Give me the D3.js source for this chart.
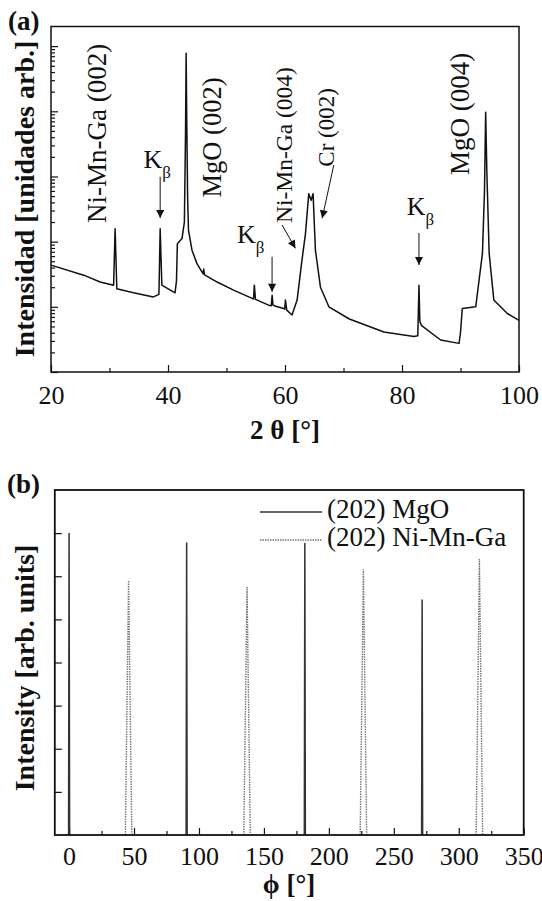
<!DOCTYPE html>
<html>
<head>
<meta charset="utf-8">
<script src="https://cdnjs.cloudflare.com/ajax/libs/d3/7.8.5/d3.min.js"></script>
<style>
  body { margin: 0; background: #fff; }
  text { font-family: 'Liberation Serif', 'Times New Roman', serif; fill: #111; }
</style>
</head>
<body>
<script>
// ---- données (a) : balayage 2θ, intensité (échelle log)
const twoTheta = [20, 25.6, 28.4, 30.7, 30.96, 31.25, 34.1, 37.5, 38.45, 38.66,
  38.95, 41.2, 41.45, 41.6, 42.4, 42.8, 43.0, 43.1, 43.2, 43.35,
  43.5, 44.1, 44.95, 46.0, 46.1, 46.25, 48.4, 51.2, 54.4, 54.62,
  54.76, 54.95, 57.2, 57.65, 57.8, 57.95, 58.4, 59.8, 59.95, 60.07,
  60.3, 61.2, 62.07, 62.9, 63.5, 64.06, 64.47, 64.8, 65.2, 66.06,
  67.5, 71.0, 76.9, 82.04, 82.7, 82.9, 83.05, 83.3, 86.6, 89.75,
  90.0, 90.3, 92.6, 93.75, 94.1, 94.3, 94.5, 94.9, 95.7, 98.0, 100]
const counts = [43.6, 30.6, 24, 21.5, 158, 19, 16.5, 14.2, 15.5, 158,
  21.5, 16.4, 25, 93, 112, 200, 5000, 78000, 8000, 500,
  150, 74, 46, 32, 38, 31, 24, 18, 13.5, 13.2,
  21.5, 13, 10.6, 10.4, 15, 10.6, 10.2, 9.4, 9.2, 12.7,
  8.9, 7.5, 12.7, 52, 133, 545, 430, 545, 74, 20,
  10, 6.5, 4.1, 3.5, 3.6, 21.5, 6, 5.2, 3.1, 2.75,
  4, 9.4, 10, 66, 600, 9700, 1200, 66, 12.7, 7.9, 6.2]
const ticksA = [20, 40, 60, 80, 100]
const minorA = [30, 50, 70, 90]

// ---- données (b) : balayage φ
const phiMgO = [0, 90.5, 181.5, 271.8]
const intMgO = [7.0, 6.78, 6.77, 5.46]
const phiNMG = [45.8, 137, 226.6, 315.9]
const intNMG = [5.9, 5.75, 6.16, 6.4]
const widthMgO = 0.4   // demi-largeur des pics (°)
const widthNMG = 2.5
const ticksB = [0, 50, 100, 150, 200, 250, 300, 350]
const minorB = [25, 75, 125, 175, 225, 275, 325]
const yTicksB = [1, 2, 3, 4, 5, 6, 7]

const svg = d3.select("body").append("svg")
    .attr("width", 542)
    .attr("height", 901)

// flèches
svg.append("defs").append("marker")
    .attr("id", "head")
    .attr("viewBox", "0 0 10 10")
    .attr("refX", 10).attr("refY", 5)
    .attr("markerUnits", "userSpaceOnUse")
    .attr("markerWidth", 10).attr("markerHeight", 8)
    .attr("orient", "auto")
    .append("path").attr("d", "M0,0 L10,5 L0,10 z").attr("fill", "#111")

//================ panneau (a)
const xA = d3.scaleLinear().domain([20, 100]).range([51, 519])
const yA = d3.scaleLog().domain([1, 2e5]).range([372, 26.5])

const gA = svg.append("g")

// ticks x
gA.append("g").attr("transform", "translate(0,372)")
    .call(d3.axisBottom(xA).tickValues(ticksA).tickSize(-7).tickFormat(d3.format("d")))
    .call(g => g.select(".domain").remove())
    .call(g => g.selectAll("text").attr("y", 32).attr("dy", null).style("font-size", "26px"))
gA.append("g").attr("transform", "translate(0,372)")
    .call(d3.axisBottom(xA).tickValues(minorA).tickSize(-4).tickFormat(""))
    .call(g => g.select(".domain").remove())

// ticks y log
const decades = [1, 10, 100, 1000, 1e4, 1e5]
const logMinor = []
decades.forEach(d => { for (let k = 2; k <= 9; k++) if (d * k < 2e5) logMinor.push(d * k) })
gA.append("g").attr("transform", "translate(51,0)")
    .call(d3.axisLeft(yA).tickValues(decades).tickSize(-7).tickFormat(""))
    .call(g => g.select(".domain").remove())
gA.append("g").attr("transform", "translate(51,0)")
    .call(d3.axisLeft(yA).tickValues(logMinor).tickSize(-4).tickFormat(""))
    .call(g => g.select(".domain").remove())
svg.selectAll(".tick line").attr("stroke", "#111").attr("stroke-width", 1.2)

// courbe
const lineA = d3.line().x((d, i) => xA(twoTheta[i])).y(d => yA(d))
gA.append("path")
    .datum(counts)
    .attr("d", lineA)
    .attr("fill", "none")
    .attr("stroke", "#111")
    .attr("stroke-width", 1.5)
    .attr("stroke-linejoin", "round")

gA.append("rect")
    .attr("x", 51).attr("y", 26.5)
    .attr("width", 468).attr("height", 345.5)
    .attr("fill", "none").attr("stroke", "#111").attr("stroke-width", 1.5)

// étiquettes verticales
const peakLabels = [
  { t: "Ni-Mn-Ga (002)", x: 29.42, y: 193, s: 27 },
  { t: "MgO (002)", x: 49.11, y: 476, s: 26.5 },
  { t: "Ni-Mn-Ga (004)", x: 61.27, y: 193, s: 23.5 },
  { t: "Cr (002)", x: 68.46, y: 1413, s: 23 },
  { t: "MgO (004)", x: 91.4, y: 1053, s: 27 }
]
gA.selectAll(".plabel")
    .data(peakLabels)
    .enter()
    .append("text")
    .attr("transform", d => `translate(${xA(d.x)},${yA(d.y)}) rotate(-90)`)
    .style("font-size", d => d.s + "px")
    .text(d => d.t)

// K beta
const kbeta = [
  { ax: 38.66, a0: 990, a1: 230, lx: 35.8, ly: 1334 },
  { ax: 57.79, a0: 58.7, a1: 17, lx: 51.8, ly: 95.3 },
  { ax: 82.9, a0: 135.7, a1: 43.8, lx: 80.8, ly: 256 }
]
kbeta.forEach(k => {
  gA.append("line")
      .attr("x1", xA(k.ax)).attr("y1", yA(k.a0))
      .attr("x2", xA(k.ax)).attr("y2", yA(k.a1))
      .attr("stroke", "#111").attr("stroke-width", 1)
      .attr("marker-end", "url(#head)")
  const t = gA.append("text")
      .attr("x", xA(k.lx)).attr("y", yA(k.ly))
      .style("font-size", "26px")
      .text("K")
  t.append("tspan").attr("dy", 10).style("font-size", "17px").text("β")
})

// flèches obliques
const slanted = [
  { x0: 59.5, y0: 180, x1: 61.78, y1: 79 },
  { x0: 68.34, y0: 1500, x1: 66.35, y1: 228 }
]
gA.selectAll(".slant")
    .data(slanted)
    .enter()
    .append("line")
    .attr("x1", d => xA(d.x0)).attr("y1", d => yA(d.y0))
    .attr("x2", d => xA(d.x1)).attr("y2", d => yA(d.y1))
    .attr("stroke", "#111").attr("stroke-width", 1)
    .attr("marker-end", "url(#head)")

gA.append("text")
    .attr("x", 285).attr("y", 439)
    .attr("text-anchor", "middle")
    .style("font-size", "27px").style("font-weight", "bold")
    .text("2 θ [°]")
gA.append("text")
    .attr("transform", "translate(34,199) rotate(-90)")
    .attr("text-anchor", "middle")
    .style("font-size", "28px").style("font-weight", "bold")
    .text("Intensidad [unidades arb.]")
gA.append("text")
    .attr("x", 8).attr("y", 30)
    .style("font-size", "27px").style("font-weight", "bold")
    .text("(a)")

//================ panneau (b)
const xB = d3.scaleLinear().domain([-11, 350]).range([54.8, 523.7])
const yB = d3.scaleLinear().domain([0, 8]).range([835, 490])

const gB = svg.append("g")

gB.append("g").attr("transform", "translate(0,835)")
    .call(d3.axisBottom(xB).tickValues(ticksB).tickSize(-7).tickFormat(d3.format("d")))
    .call(g => g.select(".domain").remove())
    .call(g => g.selectAll("text").attr("y", 30).attr("dy", null).style("font-size", "26px"))
gB.append("g").attr("transform", "translate(0,835)")
    .call(d3.axisBottom(xB).tickValues(minorB).tickSize(-4).tickFormat(""))
    .call(g => g.select(".domain").remove())
gB.append("g").attr("transform", "translate(54.8,0)")
    .call(d3.axisLeft(yB).tickValues(yTicksB).tickSize(-7).tickFormat(""))
    .call(g => g.select(".domain").remove())
svg.selectAll(".tick line").attr("stroke", "#111").attr("stroke-width", 1.2)

const peakPath = (p, h, w) => d3.line()([[xB(p - w), yB(0)], [xB(p), yB(h)], [xB(p + w), yB(0)]])

gB.selectAll(".mgo")
    .data(phiMgO)
    .enter()
    .append("path")
    .attr("d", (d, i) => peakPath(d, intMgO[i], widthMgO))
    .attr("fill", "none").attr("stroke", "#333").attr("stroke-width", 1.5)

gB.selectAll(".nmg")
    .data(phiNMG)
    .enter()
    .append("path")
    .attr("d", (d, i) => peakPath(d, intNMG[i], widthNMG))
    .attr("fill", "none").attr("stroke", "#777").attr("stroke-width", 1.4)
    .attr("stroke-dasharray", "1.5,1")

gB.append("rect")
    .attr("x", 54.8).attr("y", 490)
    .attr("width", 468.9).attr("height", 345)
    .attr("fill", "none").attr("stroke", "#111").attr("stroke-width", 1.8)

// légende
gB.append("line").attr("x1", 260).attr("x2", 322).attr("y1", 512).attr("y2", 512)
    .attr("stroke", "#333").attr("stroke-width", 1.3)
gB.append("text").attr("x", 327).attr("y", 518).style("font-size", "27px").text("(202) MgO")
gB.append("line").attr("x1", 260).attr("x2", 322).attr("y1", 540).attr("y2", 540)
    .attr("stroke", "#777").attr("stroke-width", 1.3).attr("stroke-dasharray", "1.5,1")
gB.append("text").attr("x", 327).attr("y", 546).style("font-size", "27px").text("(202) Ni-Mn-Ga")

gB.append("text")
    .attr("x", 289).attr("y", 893)
    .attr("text-anchor", "middle")
    .style("font-size", "27px").style("font-weight", "bold")
    .text("ϕ [°]")
gB.append("text")
    .attr("transform", "translate(34,668) rotate(-90)")
    .attr("text-anchor", "middle")
    .style("font-size", "28px").style("font-weight", "bold")
    .text("Intensity [arb. units]")
gB.append("text")
    .attr("x", 7).attr("y", 493)
    .style("font-size", "27px").style("font-weight", "bold")
    .text("(b)")
</script>
</body>
</html>
